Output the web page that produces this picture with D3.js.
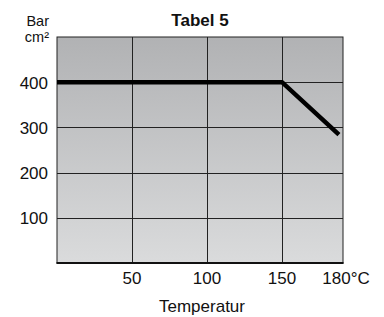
<!DOCTYPE html>
<html>
<head>
<meta charset="utf-8">
<script src="https://cdn.jsdelivr.net/npm/d3@7"></script>
<style>
  body { margin: 0; background: #fff; }
  text { font-family: "Liberation Sans", Arial, sans-serif; fill: #111; }
</style>
</head>
<body>
<svg id="chart"></svg>
<script>
// data
const temps = [0, 150, 178];
const pressure = [400, 400, 284];
const xTicks = [50, 100, 150, 180];
const xTickLabels = ["50", "100", "150", "180°C"];
const yTicks = [100, 200, 300, 400];

const width = 384, height = 317;
const margin = {top: 37, right: 41, bottom: 54, left: 57};

const svg = d3.select("#chart")
    .attr("width", width)
    .attr("height", height);

// x axis is not linear past 150 in the original
const x = d3.scaleLinear()
    .domain([0, 150, 180])
    .range([margin.left, 282, width - margin.right]);

const y = d3.scaleLinear()
    .domain([0, 500])
    .range([height - margin.bottom, margin.top]);

const grad = svg.append("defs").append("linearGradient")
    .attr("id", "bg")
    .attr("x1", 0).attr("y1", 0).attr("x2", 0).attr("y2", 1);
grad.append("stop").attr("offset", "0%").attr("stop-color", "#b1b2b4");
grad.append("stop").attr("offset", "100%").attr("stop-color", "#dadbdc");

svg.append("rect")
    .attr("x", x(0))
    .attr("y", y(500))
    .attr("width", x(180) - x(0))
    .attr("height", y(0) - y(500))
    .attr("fill", "url(#bg)")
    .attr("stroke", "#222")
    .attr("stroke-width", 1);

// grid
svg.append("g")
    .selectAll("line")
    .data(xTicks.slice(0, 3))
    .enter().append("line")
    .attr("x1", d => Math.round(x(d)) + 0.5)
    .attr("x2", d => Math.round(x(d)) + 0.5)
    .attr("y1", y(500))
    .attr("y2", y(0))
    .attr("stroke", "#222");

svg.append("g")
    .selectAll("line")
    .data(yTicks)
    .enter().append("line")
    .attr("x1", x(0))
    .attr("x2", x(180))
    .attr("y1", d => Math.round(y(d)) + 0.5)
    .attr("y2", d => Math.round(y(d)) + 0.5)
    .attr("stroke", "#222");

// thicker bottom edge
svg.append("line")
    .attr("x1", x(0) - 0.5)
    .attr("x2", x(180) + 0.5)
    .attr("y1", y(0))
    .attr("y2", y(0))
    .attr("stroke", "#111")
    .attr("stroke-width", 2);

// curve
const line = d3.line()
    .x((d, i) => x(d))
    .y((d, i) => y(pressure[i]));

svg.append("path")
    .datum(temps)
    .attr("d", line)
    .attr("fill", "none")
    .attr("stroke", "#000")
    .attr("stroke-width", 4.5);

// tick labels
svg.append("g")
    .selectAll("text")
    .data(yTicks)
    .enter().append("text")
    .attr("x", 48)
    .attr("y", d => y(d) + 6.5)
    .attr("text-anchor", "end")
    .attr("font-size", 17)
    .text(d => d);

svg.append("g")
    .selectAll("text")
    .data(xTicks)
    .enter().append("text")
    .attr("x", (d, i) => i === 3 ? x(d) + 3 : x(d))
    .attr("y", 284)
    .attr("text-anchor", "middle")
    .attr("font-size", 17)
    .text((d, i) => xTickLabels[i]);

// titles
svg.append("text")
    .attr("x", 200)
    .attr("y", 26)
    .attr("text-anchor", "middle")
    .attr("font-size", 17)
    .attr("font-weight", "bold")
    .text("Tabel 5");

svg.append("text")
    .attr("x", 49)
    .attr("y", 26)
    .attr("text-anchor", "end")
    .attr("font-size", 14.5)
    .text("Bar");

svg.append("text")
    .attr("x", 49)
    .attr("y", 42)
    .attr("text-anchor", "end")
    .attr("font-size", 14.5)
    .text("cm²");

svg.append("text")
    .attr("x", 202)
    .attr("y", 312)
    .attr("text-anchor", "middle")
    .attr("font-size", 17)
    .text("Temperatur");
</script>
</body>
</html>
